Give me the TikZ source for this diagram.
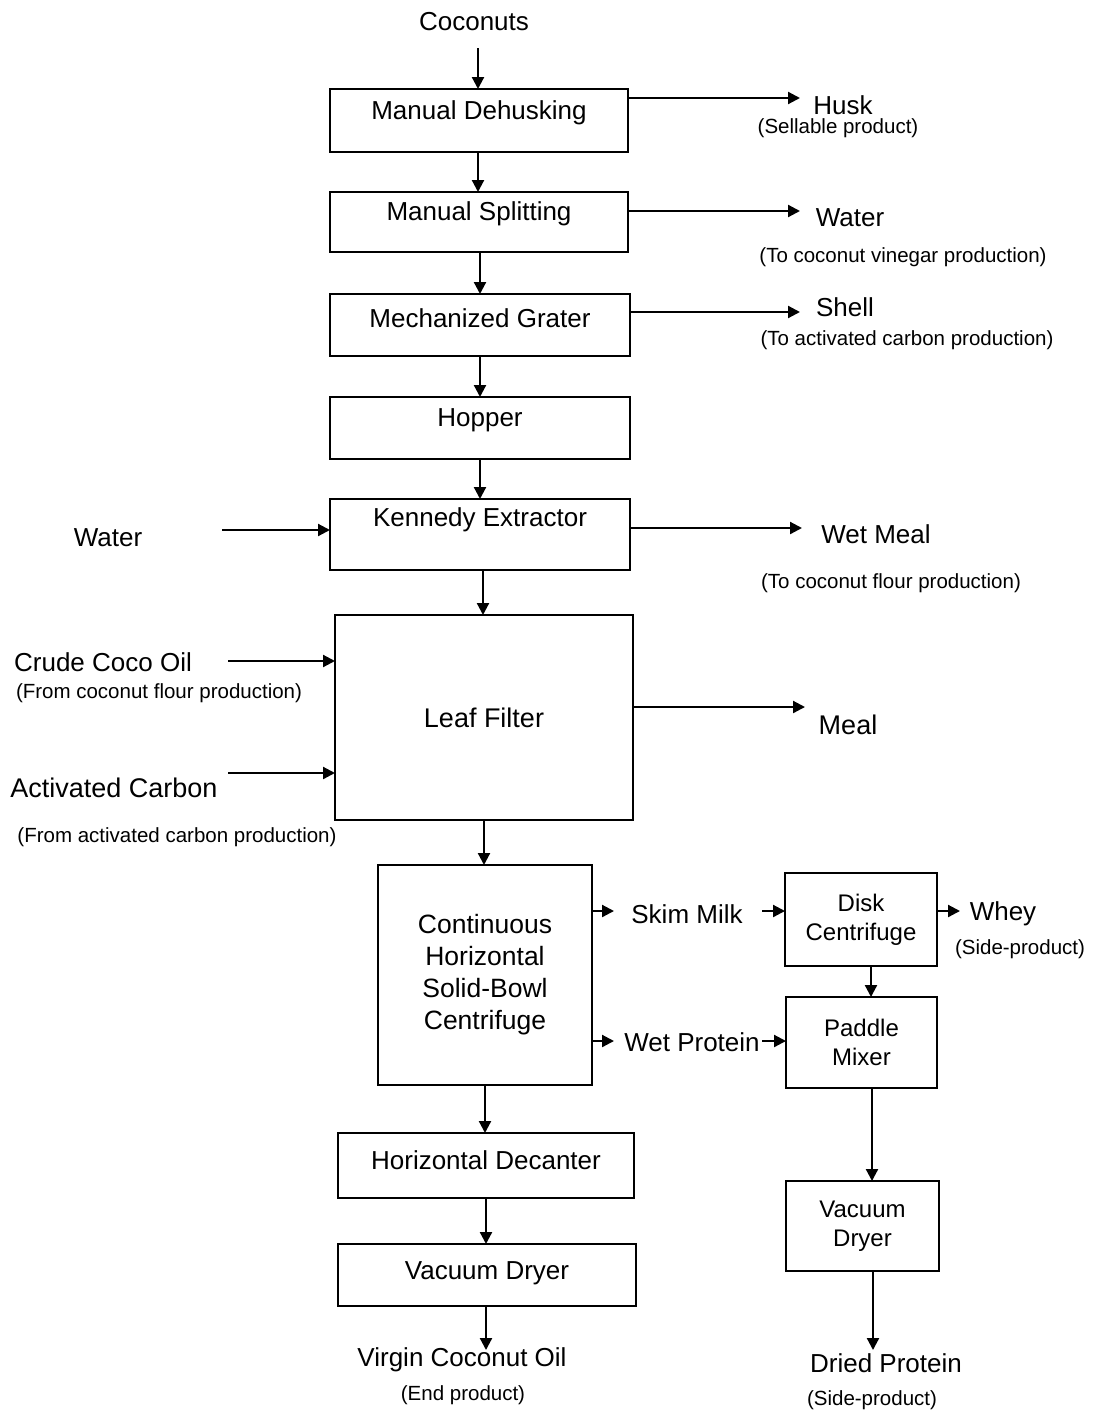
\documentclass[tikz,border=0pt]{standalone}
\usepackage{fontspec}
\setmainfont{Liberation Sans}
\usetikzlibrary{arrows.meta}
\begin{document}
\begin{tikzpicture}[x=1pt,y=-1pt,
  box/.style={draw,line width=2.2pt,inner sep=0pt,align=center,font=\fontsize{26}{30}\selectfont},
  lbl/.style={inner sep=0pt,align=center,font=\fontsize{26}{30}\selectfont},
  sub/.style={inner sep=0pt,align=center,font=\fontsize{20.5}{24}\selectfont},
  arr/.style={line width=2.2pt,-{Triangle[length=12pt,width=12pt]}}]
\useasboundingbox (0,0) rectangle (1095,1414);
% main boxes
\node[box,minimum width=298pt,minimum height=63pt] (dehusk) at (479,120.5) {};
\node[lbl] at (479,113) {Manual Dehusking};
\node[box,minimum width=298pt,minimum height=60pt] (split) at (479,222) {};
\node[lbl] at (479,214) {Manual Splitting};
\node[box,minimum width=300pt,minimum height=62pt] (grater) at (480,325) {};
\node[lbl] at (480,318) {Mechanized Grater};
\node[box,minimum width=300pt,minimum height=62pt] (hopper) at (480,428) {};
\node[lbl] at (480,420) {Hopper};
\node[box,minimum width=300pt,minimum height=71pt] (kennedy) at (480,534.5) {};
\node[lbl] at (480,520) {Kennedy Extractor};
\node[box,minimum width=298pt,minimum height=205pt,font=\fontsize{27}{31}\selectfont] (leaf) at (484,717.5) {Leaf Filter};
\node[box,minimum width=214pt,minimum height=220pt,font=\fontsize{26.5}{32}\selectfont] (cent) at (485,975) {Continuous\\Horizontal\\Solid-Bowl\\Centrifuge};
\node[box,minimum width=296pt,minimum height=65pt] (decant) at (486,1165.5) {};
\node[lbl] at (486,1160) {Horizontal Decanter};
\node[box,minimum width=298pt,minimum height=62pt] (dryer) at (487,1275) {};
\node[lbl] at (487,1273) {Vacuum Dryer};
% right branch
\node[box,minimum width=152pt,minimum height=93pt,font=\fontsize{24}{29}\selectfont] (disk) at (861,919.5) {Disk\\Centrifuge};
\node[box,minimum width=151pt,minimum height=91pt,font=\fontsize{24}{29}\selectfont] (paddle) at (861.5,1042.5) {Paddle\\Mixer};
\node[box,minimum width=153pt,minimum height=90pt,font=\fontsize{24}{29}\selectfont] (vdry) at (862.5,1226) {Vacuum\\Dryer};
% texts
\node[lbl] (coco) at (474,22) {Coconuts};
\node[lbl] (husk) at (843,105) {Husk};
\node[sub] at (838,128) {(Sellable product)};
\node[lbl] (water1) at (850,218) {Water};
\node[sub] at (903,257) {(To coconut vinegar production)};
\node[lbl] (shell) at (845,307) {Shell};
\node[sub] at (907,340) {(To activated carbon production)};
\node[lbl] (water2) at (108,538) {Water};
\node[lbl] (wetmeal) at (876,534) {Wet Meal};
\node[sub] at (891,583) {(To coconut flour production)};
\node[lbl,font=\fontsize{27}{31}\selectfont] (meal) at (848,725) {Meal};
\node[lbl] (crude) at (103,662) {Crude Coco Oil};
\node[sub] at (159,693) {(From coconut flour production)};
\node[lbl,font=\fontsize{27}{31}\selectfont] (actc) at (114,788) {Activated Carbon};
\node[sub] at (177,837) {(From activated carbon production)};
\node[lbl] (skim) at (687,914) {Skim Milk};
\node[lbl] (wetp) at (692,1042) {Wet Protein};
\node[lbl] (whey) at (1003,914) {Whey};
\node[sub] at (1020,949) {(Side-product)};
\node[lbl] (vco) at (462,1360) {Virgin Coconut Oil};
\node[sub] at (463,1395) {(End product)};
\node[lbl] (dried) at (886,1363) {Dried Protein};
\node[sub] at (872,1400) {(Side-product)};
% coordinates for free ends
\coordinate (cocoE) at (478,48);
\coordinate (huskA) at (800,98);
\coordinate (waterA) at (800,211);
\coordinate (shellA) at (800,312);
\coordinate (wmA) at (802,528);
\coordinate (mealA) at (805,707);
\coordinate (w2S) at (222,530);
\coordinate (coS) at (228,661);
\coordinate (acS) at (228,773);
% main vertical arrows
\draw[arr] (cocoE) -- (478,89);
\draw[arr] (478,152) -- (478,192);
\draw[arr] (480,252) -- (480,294);
\draw[arr] (480,356) -- (480,397);
\draw[arr] (480,459) -- (480,499);
\draw[arr] (483,570) -- (483,615);
\draw[arr] (484,820) -- (484,865);
\draw[arr] (485,1085) -- (485,1133);
\draw[arr] (486,1198) -- (486,1244);
\draw[arr] (486,1306) -- (486,1350);
% side outputs
\draw[arr] (628,98) -- (huskA);
\draw[arr] (628,211) -- (waterA);
\draw[arr] (630,312) -- (shellA);
\draw[arr] (630,528) -- (wmA);
\draw[arr] (633,707) -- (mealA);
% inputs
\draw[arr] (w2S) -- (330,530);
\draw[arr] (coS) -- (335,661);
\draw[arr] (acS) -- (335,773);
% centrifuge branch
\draw[arr] (592,911) -- (614,911);
\draw[arr] (762,911) -- (785,911);
\draw[arr] (937,911) -- (960,911);
\draw[arr] (592,1041) -- (614,1041);
\draw[arr] (762,1041) -- (786,1041);
\draw[arr] (871,966) -- (871,997);
\draw[arr] (872,1088) -- (872,1181);
\draw[arr] (873,1271) -- (873,1350);
\end{tikzpicture}
\end{document}
